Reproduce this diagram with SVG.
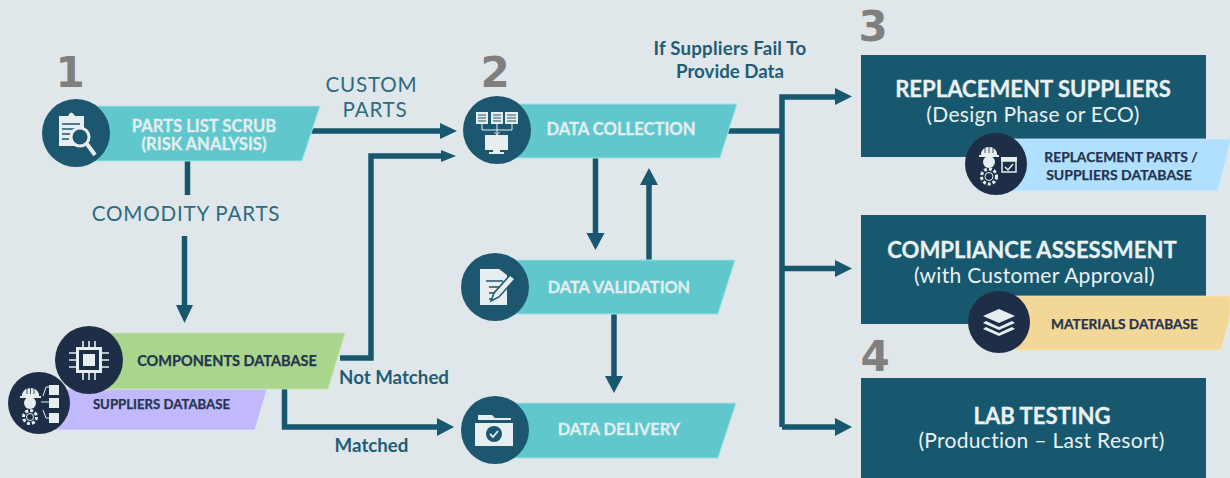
<svg xmlns="http://www.w3.org/2000/svg" width="1230" height="478" viewBox="0 0 1230 478">
<style>
text{font-family:"Lato","Liberation Sans",sans-serif}
.bn{fill:#60c7cd;stroke:#a8e2e4;stroke-width:1}
.lb{font-weight:700;font-size:16.600px;fill:#e2eef0;stroke:#e2eef0;stroke-width:.3;text-anchor:middle}
.db{font-weight:700;font-size:14.500px;fill:#24334e;stroke:#24334e;stroke-width:.25;text-anchor:middle}
.num{font-family:"DejaVu Sans",sans-serif;font-weight:700;font-size:42px;fill:#7f7f7f;text-anchor:middle}
.c1{fill:#1d566f}
.c2{fill:#1f2e47}
.box{fill:#17586f}
.t1{font-weight:700;font-size:22.100px;fill:#eaf1f3;stroke:#eaf1f3;stroke-width:.3;text-anchor:middle}
.t2{font-weight:400;font-size:21px;fill:#eaf1f3;text-anchor:middle;letter-spacing:.3px}
.cl{font-weight:400;font-size:20.600px;fill:#2f6a80;text-anchor:middle;letter-spacing:.8px}
.bl{font-weight:700;font-size:18.700px;fill:#1f5d76;text-anchor:middle}
.ln{fill:none;stroke:#17586f;stroke-width:5.500}
.ah{fill:#17586f}
.ic{fill:#e6eef0}
.is{fill:none;stroke:#e6eef0;stroke-width:1.600}
.th{fill:none;stroke:#e6eef0;stroke-width:1}
.gear{fill:none;stroke:#e6eef0;stroke-width:3;stroke-dasharray:3 2}
</style>
<rect width="1230" height="478" fill="#dfe7ea"/>
<g id="connectors">
<path class="ln" d="M310 131H443"/><path class="ah" d="M440 123L457 131L440 139Z"/>
<path class="ln" d="M340 358H371V156H443"/><path class="ah" d="M441 150L456 156L441 162Z"/>
<path class="ln" d="M187.500 158V195"/>
<path class="ln" d="M184.500 236V310"/><path class="ah" d="M176 305H193L184.500 323Z"/>
<path class="ln" d="M284.500 385V427H440"/><path class="ah" d="M437 418L454 427L437 436Z"/>
<path class="ln" d="M595.500 155V235"/><path class="ah" d="M586.500 233H604.500L595.500 250Z"/>
<path class="ln" d="M649 263V183"/><path class="ah" d="M640 185H658L649 168Z"/>
<path class="ln" d="M614 312V378"/><path class="ah" d="M605 376H623L614 393Z"/>
<path class="ln" d="M728 131H782"/>
<path class="ln" d="M782 427V97H838"/><path class="ah" d="M835 88L852 96.500L835 105Z"/>
<path class="ln" d="M782 268.500H838"/><path class="ah" d="M835 260L852 268.500L835 277Z"/>
<path class="ln" d="M782 427H838"/><path class="ah" d="M835 418L852 427L835 436Z"/>
</g>
<g id="labels">
<text class="num" x="70" y="87">1</text>
<text class="num" x="495" y="87">2</text>
<text class="num" x="873" y="41">3</text>
<text class="num" x="875" y="371">4</text>
<text class="cl" x="371.500" y="92">CUSTOM</text>
<text class="cl" x="375" y="117">PARTS</text>
<text class="cl" x="186" y="221">COMODITY PARTS</text>
<text class="bl" x="394" y="384">Not Matched</text>
<text class="bl" x="371.500" y="452">Matched</text>
<text class="bl" x="730" y="55" style="letter-spacing:.2px">If Suppliers Fail To</text>
<text class="bl" x="730" y="78">Provide Data</text>
</g>
<g id="parts-list">
<path class="bn" d="M90 106H320L302 161H90Z"/>
<circle class="c1" cx="76" cy="133" r="34"/>
<path class="ic" d="M59 116H68Q71 109 75 116H84V129A14 14 0 0 0 76 146H59Z"/>
<path style="fill:none;stroke:#1d566f;stroke-width:1.600" d="M62 124H80M62 129H76M62 134H70M62 139H69"/>
<circle cx="80" cy="137" r="9" fill="#1d566f" stroke="#e6eef0" stroke-width="3"/>
<path d="M87 144L95 155" stroke="#e6eef0" stroke-width="4"/>
<text class="lb" x="204" y="132">PARTS LIST SCRUB</text>
<text class="lb" x="204" y="150">(RISK ANALYSIS)</text>
</g>
<g id="data-collection">
<path class="bn" d="M510 104H737L720 158H510Z"/>
<circle class="c1" cx="497" cy="130" r="34"/>
<path class="ic" d="M476 112H488V124H476ZM491 112H503V124H491ZM505 112H518V124H505ZM485 135H508V150H500V152H504V154H489V152H493V150H485Z"/>
<path style="fill:none;stroke:#1d566f;stroke-width:1" d="M478 115H486M478 118H486M478 121H486M493 115H501M493 118H501M493 121H501M507 115H516M507 118H516M507 121H516"/>
<path class="th" d="M482 124V130H512V124M497 124V135M494.500 132L497 135L499.500 132"/>
<text class="lb" x="621" y="135">DATA COLLECTION</text>
</g>
<g id="data-validation">
<path class="bn" d="M510 260H735L718 314H510Z"/>
<circle class="c1" cx="495" cy="287" r="34"/>
<path class="ic" d="M480 269H499L507 275V305H480Z"/>
<path d="M486 281H503M489 287H500M489 293H497M489 299H494" stroke="#1d566f" stroke-width="1.500"/>
<path d="M491 301L494 293L510 275L515 279L499 297Z" fill="#e6eef0" stroke="#1d566f" stroke-width="1.500"/>
<text class="lb" x="619" y="293" style="font-size:16.300px">DATA VALIDATION</text>
</g>
<g id="data-delivery">
<path class="bn" d="M510 403H736L718 458H510Z"/>
<circle class="c1" cx="495" cy="430" r="34"/>
<path class="ic" d="M478 415H492L495 418H511V420H478ZM475 423H513V446H475Z"/>
<circle class="c1" cx="494" cy="434" r="8"/>
<path d="M490 434L493 437L498 431" fill="none" stroke="#e6eef0" stroke-width="1.800"/>
<text class="lb" x="619" y="435" style="font-size:16.400px">DATA DELIVERY</text>
</g>
<g id="suppliers-database">
<path d="M50 389H267L255 430H50Z" fill="#c1b8fd" stroke="#e3e4f7" stroke-width=".8"/>
<circle class="c2" cx="39" cy="403" r="31"/>
<path class="ic" d="M22 394A9 9 0 0 1 39 394V396H41V398H20V396H22Z"/>
<path d="M27 386V394M30.500 385V394M34 386V394" stroke="#1f2e47" stroke-width=".8"/>
<circle cx="30" cy="403" r="6" class="ic"/>
<circle class="gear" cx="30" cy="417" r="6.500"/>
<circle class="th" cx="30" cy="417" r="3.500"/>
<path class="ic" d="M49 385H59V395H49ZM49 398H59V408H49ZM49 413H59V423H49Z"/>
<path class="th" d="M41 402H49M43 396L46 387H49M43 410L46 418H49"/>
<text class="db" x="161.500" y="409" style="font-size:13.200px">SUPPLIERS DATABASE</text>
</g>
<g id="components-database">
<path d="M100 333H345L328 389H100Z" fill="#a9d58c" stroke="#c9e3b6" stroke-width=".8"/>
<circle class="c2" cx="89" cy="360" r="34"/>
<path class="ic" d="M76 347H102V373H76Z"/>
<rect x="79" y="350" width="20" height="20" fill="#1f2e47"/>
<rect x="83" y="354" width="12" height="12" fill="#e6eef0"/>
<path class="is" d="M83 341V347M89 341V347M95 341V347M83 373V380M89 373V380M95 373V380M69 353H76M69 360H76M69 367H76M102 353H109M102 360H109M102 367H109"/>
<text class="db" x="227" y="366">COMPONENTS DATABASE</text>
</g>
<g id="replacement-suppliers">
<rect class="box" x="861" y="55" width="345" height="102"/>
<text class="t1" x="1033" y="97">REPLACEMENT SUPPLIERS</text>
<text class="t2" x="1033" y="122">(Design Phase or ECO)</text>
<path d="M1010 139H1230V143L1218 191H1010Z" fill="#b1e0fe" stroke="#d4ecfb" stroke-width=".8"/>
<circle class="c2" cx="996" cy="164" r="31"/>
<path class="ic" d="M981 153A8.500 9 0 0 1 997 153V155H999V157H979V155H981Z"/>
<path d="M985 146V153M989 145V153M993 146V153" stroke="#1f2e47" stroke-width=".8"/>
<circle cx="989" cy="162" r="6" class="ic"/>
<circle class="gear" cx="989" cy="176.500" r="7.500"/>
<circle class="th" cx="989" cy="176.500" r="4"/>
<path class="ic" d="M1001 157H1017V161H1001Z"/>
<rect x="1002" y="161" width="14" height="11" fill="none" stroke="#e6eef0" stroke-width="1.500"/>
<path d="M1005 167L1008 170L1013 164" fill="none" stroke="#e6eef0" stroke-width="1.500"/>
<text class="db" x="1121" y="162" style="font-size:13.800px">REPLACEMENT PARTS /</text>
<text class="db" x="1119" y="180" style="font-size:14px">SUPPLIERS DATABASE</text>
</g>
<g id="compliance-assessment">
<rect class="box" x="861" y="215" width="345" height="109"/>
<text class="t1" x="1032" y="258">COMPLIANCE ASSESSMENT</text>
<text class="t2" x="1034.500" y="283">(with Customer Approval)</text>
<path d="M1015 296H1230V316L1221 350H1015Z" fill="#f3d796" stroke="#f6e6c0" stroke-width=".8"/>
<circle class="c2" cx="999" cy="322" r="31"/>
<path class="ic" d="M999 309L1015 316L999 323L983 316Z"/>
<path class="ic" d="M986 321L999 327L1012 321L1015 323L999 330L983 323Z"/>
<path class="ic" d="M986 327L999 333L1012 327L1015 329L999 336L983 329Z"/>
<text class="db" x="1124.500" y="329" style="font-size:13.700px">MATERIALS DATABASE</text>
</g>
<g id="lab-testing">
<rect class="box" x="861" y="378" width="345" height="100"/>
<text class="t1" x="1042" y="424">LAB TESTING</text>
<text class="t2" x="1041.500" y="448">(Production – Last Resort)</text>
</g>
</svg>
